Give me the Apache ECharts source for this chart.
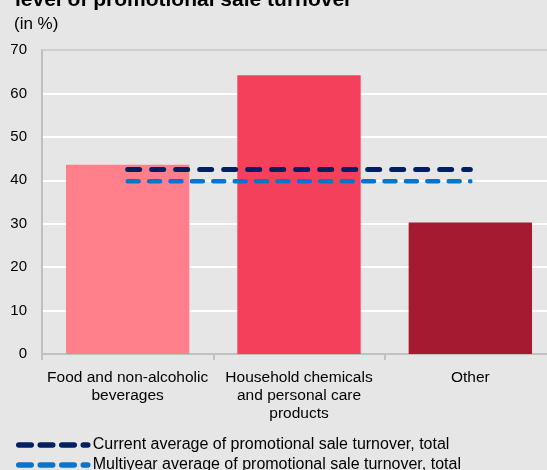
<!DOCTYPE html>
<html><head><meta charset="utf-8">
<script src="https://cdn.jsdelivr.net/npm/echarts@6/dist/echarts.min.js"></script>
<style>html,body{margin:0;padding:0;background:#e6e6e6;overflow:hidden;width:547px;height:470px;}#c{width:556px;height:470px;}</style>
</head><body><div id="c"></div>
<script>
const categories = ["Food and non-alcoholic\nbeverages", "Household chemicals\nand personal care\nproducts", "Other"];
const barValues = [43.6, 64.2, 30.3];
const currentAvg = [42.5, 42.5, 42.5];
const multiyearAvg = [39.8, 39.8, 39.8];
const barColors = ["#ff808b", "#f5405c", "#a51931"];
const seriesNames = ['Current average of promotional sale turnover, total', 'Multiyear average of promotional sale turnover, total'];

const chart = echarts.init(document.getElementById('c'), null, {renderer: 'canvas'});
const font = 'Liberation Sans, Arial, sans-serif';
function legendFor(i, top, color) {
  return {
    orient: 'horizontal', left: 11, top: top, itemGap: 6, itemWidth: 69, itemHeight: 14,
    textStyle: {color: '#000', fontSize: 16, fontFamily: font},
    data: [{name: seriesNames[i], itemStyle: {opacity: 0},
            lineStyle: {color: color, width: 5.5, type: [12.5, 9], cap: 'round'}}]
  };
}
chart.setOption({
  backgroundColor: '#e6e6e6',
  animation: false,
  textStyle: {fontFamily: font},
  title: [
    {text: 'level of promotional sale turnover', left: 10, top: -15,
     textStyle: {fontSize: 21, fontWeight: 'bold', color: '#000', fontFamily: font}},
    {text: '(in %)', left: 9, top: 11,
     textStyle: {fontSize: 17, fontWeight: 'normal', color: '#000', fontFamily: font}}
  ],
  grid: {left: 42, right: 0, top: 50, bottom: 116, containLabel: false},
  xAxis: {
    type: 'category', data: categories,
    axisLine: {lineStyle: {color: '#c0c0c0', width: 2}},
    axisTick: {show: true, length: 6, lineStyle: {color: '#c0c0c0', width: 2}},
    axisLabel: {color: '#000', fontSize: 15.5, lineHeight: 18, margin: 15, interval: 0, fontFamily: font}
  },
  yAxis: {
    type: 'value', min: 0, max: 70, interval: 10,
    axisLine: {show: true, lineStyle: {color: '#c0c0c0', width: 2}},
    axisTick: {show: false},
    axisLabel: {color: '#000', fontSize: 15, margin: 15, fontFamily: font},
    splitLine: {lineStyle: {color: ['#ffffff','#ffffff','#ffffff','#ffffff','#ffffff','#ffffff','#ffffff','#cfcfcf'], width: 2}}
  },
  legend: [legendFor(0, 432, '#002060'), legendFor(1, 452, '#0a74cc')],
  series: [
    {type: 'bar', name: 'bars', data: barValues.map((v, i) => ({value: v, itemStyle: {color: barColors[i]}})),
     barWidth: '72%'},
    {type: 'line', name: seriesNames[0], data: currentAvg,
     symbol: 'none', z: 5,
     lineStyle: {color: '#002060', width: 5, type: [12, 12], cap: 'round'},
     itemStyle: {color: '#002060'}},
    {type: 'line', name: seriesNames[1], data: multiyearAvg,
     symbol: 'none', z: 5,
     lineStyle: {color: '#0a74cc', width: 4.5, type: [11, 10.4], cap: 'round'},
     itemStyle: {color: '#0a74cc'}}
  ]
});
</script></body></html>
